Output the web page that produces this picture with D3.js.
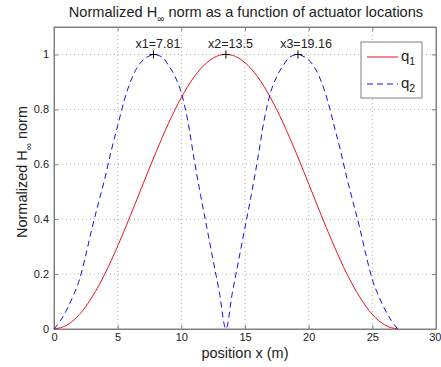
<!DOCTYPE html>
<html>
<head>
<meta charset="utf-8">
<script src="https://cdn.jsdelivr.net/npm/d3@7/dist/d3.min.js"></script>
<style>
  body { margin: 0; background: #fff; }
  svg { font-family: "Liberation Sans", Arial, sans-serif; }
  .grid line { stroke: #b0b0b0; stroke-dasharray: 1,3; }
  .axis path { stroke: #808080; }
  .axis line { stroke: #808080; }
  .axis text { fill: #222; font-size: 11px; }
</style>
</head>
<body>
<svg id="chart" width="441" height="367"></svg>
<script>
// values
const xTicks = [0, 5, 10, 15, 20, 25, 30];
const yTicks = [0, 0.2, 0.4, 0.6, 0.8, 1];

const q1X = [0, 1, 2, 3, 4, 5, 6, 7, 8, 9, 10, 11, 12, 13, 13.5, 14, 15, 16, 17, 18, 19, 20, 21, 22, 23, 24, 25, 26, 27];
const q1Y = [0, 0.014, 0.053, 0.117, 0.201, 0.302, 0.413, 0.529, 0.643, 0.75, 0.843, 0.918, 0.97, 0.997, 1, 0.997, 0.97, 0.918, 0.843, 0.75, 0.643, 0.529, 0.413, 0.302, 0.201, 0.117, 0.053, 0.014, 0];

const q2X = [0, 0.5, 1, 1.5, 2, 2.5, 3, 3.5, 4, 4.5, 5, 5.5, 6, 6.5, 7, 7.5, 7.81, 8.5, 9, 9.5, 10, 10.5, 11, 11.5, 12, 12.5, 13, 13.5,
             14, 14.5, 15, 15.5, 16, 16.5, 17, 17.5, 18, 18.5, 19.16, 19.5, 20, 20.5, 21, 21.5, 22, 22.5, 23, 23.5, 24, 24.5, 25, 25.5, 26, 26.5, 27];
const q2Y = [0, 0.03, 0.07, 0.12, 0.18, 0.27, 0.37, 0.46, 0.55, 0.65, 0.74, 0.83, 0.9, 0.95, 0.98, 0.995, 1, 0.99, 0.96, 0.92, 0.86, 0.76, 0.62, 0.49, 0.37, 0.25, 0.13, 0,
             0.13, 0.25, 0.37, 0.49, 0.62, 0.76, 0.86, 0.92, 0.96, 0.99, 1, 0.995, 0.98, 0.95, 0.9, 0.83, 0.74, 0.65, 0.55, 0.46, 0.37, 0.27, 0.18, 0.12, 0.07, 0.03, 0];

const peakNames = ["x1", "x2", "x3"];
const peakX = [7.81, 13.5, 19.16];
const peakY = [1, 1, 1];

const svg = d3.select("#chart");
const m = { left: 54, right: 436, top: 27, bottom: 329 };

const x = d3.scaleLinear().domain([0, 30]).range([m.left, m.right]);
const y = d3.scaleLinear().domain([0, 1.1]).range([m.bottom, m.top]);

svg.append("rect").attr("x", m.left).attr("y", m.top)
  .attr("width", m.right - m.left).attr("height", m.bottom - m.top).attr("fill", "#fff");

// dotted grid
const grid = svg.append("g").attr("class", "grid");
grid.selectAll(".gx").data(xTicks.slice(1, -1)).enter().append("line")
  .attr("x1", d => x(d)).attr("x2", d => x(d)).attr("y1", m.top).attr("y2", m.bottom);
grid.selectAll(".gy").data(yTicks.slice(1)).enter().append("line")
  .attr("y1", d => y(d)).attr("y2", d => y(d)).attr("x1", m.left).attr("x2", m.right);

// axes, ticks pointing inward like matlab
const xAxis = svg.append("g").attr("class", "axis").attr("transform", `translate(0,${m.bottom})`)
  .call(d3.axisBottom(x).tickValues(xTicks).tickFormat(d3.format("d")).tickSizeInner(-4).tickSizeOuter(0).tickPadding(4));
// keep the last label inside the window
xAxis.selectAll(".tick text").filter(d => d === 30).attr("text-anchor", "end").attr("x", 5);
svg.append("g").attr("class", "axis").attr("transform", `translate(0,${m.top})`)
  .call(d3.axisTop(x).tickValues(xTicks).tickFormat("").tickSizeInner(-4).tickSizeOuter(0));
svg.append("g").attr("class", "axis").attr("transform", `translate(${m.left},0)`)
  .call(d3.axisLeft(y).tickValues(yTicks).tickFormat(d3.format("~g")).tickSizeInner(-4).tickSizeOuter(0).tickPadding(5));
svg.append("g").attr("class", "axis").attr("transform", `translate(${m.right},0)`)
  .call(d3.axisRight(y).tickValues(yTicks).tickFormat("").tickSizeInner(-4).tickSizeOuter(0));

svg.append("rect").attr("x", m.left).attr("y", m.top)
  .attr("width", m.right - m.left).attr("height", m.bottom - m.top)
  .attr("fill", "none").attr("stroke", "#808080");

// curves
const line = d3.line().x(d => x(d[0])).y(d => y(d[1])).curve(d3.curveMonotoneX);
svg.append("path").datum(d3.zip(q1X, q1Y))
  .attr("d", line).attr("fill", "none")
  .attr("stroke", "#e8141c").attr("stroke-width", 1);
svg.append("path").datum(d3.zip(q2X, q2Y))
  .attr("d", line)
  .attr("fill", "none").attr("stroke", "#1010e8").attr("stroke-width", 1)
  .attr("stroke-dasharray", "6,4");

// peak markers and labels
const peaks = svg.append("g");
peakX.forEach((px, i) => {
  const cx = x(px), cy = y(peakY[i]);
  peaks.append("path").attr("d", `M${cx - 4},${cy}H${cx + 4}M${cx},${cy - 4}V${cy + 4}`)
    .attr("stroke", "#000").attr("stroke-width", 1);
  peaks.append("text").attr("x", x(px - 1.4)).attr("y", y(1.025))
    .attr("font-size", "12.5px").attr("fill", "#222")
    .text(`${peakNames[i]}=${px}`);
});

// title
const title = svg.append("text").attr("x", (m.left + m.right) / 2 + 1).attr("y", 17)
  .attr("text-anchor", "middle").attr("font-size", "14.6px").attr("fill", "#222");
title.append("tspan").text("Normalized H");
title.append("tspan").attr("font-size", "10px").attr("dy", 5).text("∞");
title.append("tspan").attr("dy", -5).text(" norm as a function of actuator locations");

// axis labels
svg.append("text").attr("x", (m.left + m.right) / 2).attr("y", 358)
  .attr("text-anchor", "middle").attr("font-size", "14.5px").attr("fill", "#222")
  .text("position x (m)");
const ylab = svg.append("text").attr("transform", `translate(27,${(m.top + m.bottom) / 2 - 6}) rotate(-90)`)
  .attr("text-anchor", "middle").attr("font-size", "14.5px").attr("fill", "#222");
ylab.append("tspan").text("Normalized H");
ylab.append("tspan").attr("font-size", "10px").attr("dy", 5).text("∞");
ylab.append("tspan").attr("dy", -5).text(" norm");

// legend
const lg = svg.append("g");
lg.append("rect").attr("x", 361).attr("y", 42).attr("width", 61).attr("height", 56)
  .attr("fill", "#fff").attr("stroke", "#808080");
lg.append("line").attr("x1", 367).attr("x2", 398).attr("y1", 57).attr("y2", 57)
  .attr("stroke", "#e8141c");
lg.append("line").attr("x1", 367).attr("x2", 398).attr("y1", 84).attr("y2", 84)
  .attr("stroke", "#1010e8").attr("stroke-dasharray", "6,4");
[["1", 61], ["2", 88]].forEach(([s, yy]) => {
  const t = lg.append("text").attr("x", 401).attr("y", yy).attr("font-size", "15px").attr("fill", "#222");
  t.append("tspan").text("q");
  t.append("tspan").attr("font-size", "10.5px").attr("dy", 4).text(s);
});
</script>
</body>
</html>
